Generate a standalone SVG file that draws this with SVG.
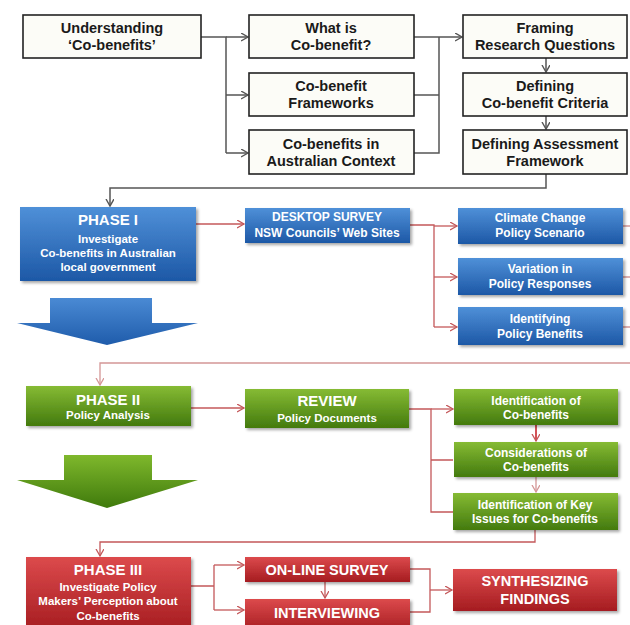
<svg xmlns="http://www.w3.org/2000/svg" width="630" height="625" viewBox="0 0 630 625">
<style>
.wb{fill:#fcfcf7;stroke:#222;stroke-width:1.6}
.tw{font-family:"Liberation Sans",Arial,sans-serif;font-weight:bold;font-size:14.5px;fill:#1a1a1a;text-anchor:middle}
.tc{font-family:"Liberation Sans",Arial,sans-serif;font-weight:bold;font-size:11.5px;fill:#fff;text-anchor:middle}
.tb{font-family:"Liberation Sans",Arial,sans-serif;font-weight:bold;font-size:12px;fill:#fff;text-anchor:middle}
.th{font-family:"Liberation Sans",Arial,sans-serif;font-weight:bold;font-size:15px;fill:#fff;text-anchor:middle}
.tr{font-family:"Liberation Sans",Arial,sans-serif;font-weight:bold;font-size:14.5px;fill:#fff;text-anchor:middle}
.g{fill:none;stroke:#555;stroke-width:1.5}
.r{fill:none;stroke:#c4585a;stroke-width:1.3}
.rl{fill:none;stroke:#d49696;stroke-width:1.3}
.blue{fill:url(#gb);filter:url(#sh)}
.green{fill:url(#gg);filter:url(#sh)}
.red{fill:url(#gr);filter:url(#sh)}
</style>
<defs>
<linearGradient id="gb" x1="0" y1="0" x2="0" y2="1"><stop offset="0" stop-color="#4f90d8"/><stop offset="1" stop-color="#1d58a6"/></linearGradient>
<linearGradient id="gg" x1="0" y1="0" x2="0" y2="1"><stop offset="0" stop-color="#86bb34"/><stop offset="1" stop-color="#437a0e"/></linearGradient>
<linearGradient id="gr" x1="0" y1="0" x2="0" y2="1"><stop offset="0" stop-color="#dc4a4c"/><stop offset="1" stop-color="#a51c20"/></linearGradient>
<linearGradient id="gba" x1="0" y1="0" x2="0" y2="1"><stop offset="0" stop-color="#4a8ad4"/><stop offset="1" stop-color="#1f5cab"/></linearGradient>
<linearGradient id="gga" x1="0" y1="0" x2="0" y2="1"><stop offset="0" stop-color="#7fb82c"/><stop offset="1" stop-color="#3f7a0c"/></linearGradient>
<filter id="sh" x="-10%" y="-20%" width="125%" height="150%"><feDropShadow dx="2" dy="2" stdDeviation="1.5" flood-color="#000" flood-opacity="0.35"/></filter>
<marker id="ag" markerUnits="userSpaceOnUse" markerWidth="10" markerHeight="10" refX="7" refY="4" orient="auto"><path d="M0,0 L7,4 L0,8" fill="none" stroke="#555" stroke-width="1.4"/></marker>
<marker id="ar" markerUnits="userSpaceOnUse" markerWidth="10" markerHeight="10" refX="7" refY="4" orient="auto"><path d="M0,0 L7,4 L0,8" fill="none" stroke="#c4585a" stroke-width="1.3"/></marker>
<marker id="arl" markerUnits="userSpaceOnUse" markerWidth="10" markerHeight="10" refX="7" refY="4" orient="auto"><path d="M0,0 L7,4 L0,8" fill="none" stroke="#d49696" stroke-width="1.3"/></marker>
</defs>
<rect width="630" height="625" fill="#fff"/>

<g id="connectors">
<path class="g" d="M201,37 H226 V153"/>
<path class="g" d="M226,37 H248" marker-end="url(#ag)"/>
<path class="g" d="M226,95 H248" marker-end="url(#ag)"/>
<path class="g" d="M226,153 H248" marker-end="url(#ag)"/>
<path class="g" d="M414,37 H439 M414,95 H439 M414,153 H439 V37"/>
<path class="g" d="M439,37 H462" marker-end="url(#ag)"/>
<path class="g" d="M546,58 V72" marker-end="url(#ag)"/>
<path class="g" d="M546,116 V129" marker-end="url(#ag)"/>
<path class="g" d="M546,174 V188 H110 V206" marker-end="url(#ag)"/>

<path class="r" d="M196,224 H244" marker-end="url(#ar)"/>
<path class="r" d="M410,225 H434 V327"/>
<path class="r" d="M434,226 H457" marker-end="url(#ar)"/>
<path class="r" d="M434,277 H457" marker-end="url(#ar)"/>
<path class="r" d="M434,327 H457" marker-end="url(#ar)"/>
<path class="rl" d="M623,226 H630 M623,277 H630 M623,327 H630"/>
<path class="rl" d="M630,363 H100 V385" marker-end="url(#arl)"/>

<path class="r" d="M191,408 H244" marker-end="url(#ar)"/>
<path class="r" d="M409,409 H431 V512 H453 M431,460 H453"/>
<path class="r" d="M431,409 H453" marker-end="url(#ar)"/>
<path fill="none" stroke="#c8262c" stroke-width="1.6" d="M536,425 V441" marker-end="url(#ar)"/>
<path class="rl" d="M536,477 V492" marker-end="url(#arl)"/>
<path class="r" d="M535,530 V542 H100 V556" marker-end="url(#ar)"/>

<path class="r" d="M191,586 H214 M214,565 V610"/>
<path class="r" d="M214,565 H244" marker-end="url(#ar)"/>
<path class="r" d="M214,610 H244" marker-end="url(#ar)"/>
<path class="r" d="M325,582 V598" marker-end="url(#ar)"/>
<path class="r" d="M410,569 H430 V612 H410"/>
<path class="r" d="M430,590 H452" marker-end="url(#ar)"/>
</g>

<g id="understanding"><rect class="wb" x="23" y="15" width="178" height="43"/><text class="tw" x="112" y="33">Understanding</text><text class="tw" x="112" y="50">‘Co-benefits’</text></g>
<g id="what-is"><rect class="wb" x="249" y="15" width="165" height="43"/><text class="tw" x="331" y="33">What is</text><text class="tw" x="331" y="50">Co-benefit?</text></g>
<g id="frameworks"><rect class="wb" x="249" y="73" width="165" height="43"/><text class="tw" x="331" y="91">Co-benefit</text><text class="tw" x="331" y="108">Frameworks</text></g>
<g id="australian-context"><rect class="wb" x="249" y="130" width="165" height="44"/><text class="tw" x="331" y="149">Co-benefits in</text><text class="tw" x="331" y="166">Australian Context</text></g>
<g id="framing"><rect class="wb" x="463" y="15" width="164" height="43"/><text class="tw" x="545" y="33">Framing</text><text class="tw" x="545" y="50">Research Questions</text></g>
<g id="criteria"><rect class="wb" x="463" y="73" width="164" height="43"/><text class="tw" x="545" y="91">Defining</text><text class="tw" x="545" y="108">Co-benefit Criteria</text></g>
<g id="assessment"><rect class="wb" x="463" y="130" width="164" height="44"/><text class="tw" x="545" y="149">Defining Assessment</text><text class="tw" x="545" y="166">Framework</text></g>

<g id="phase1"><rect class="blue" x="20" y="207" width="176" height="74"/><text class="th" x="108" y="225">PHASE I</text><text class="tc" x="108" y="243">Investigate</text><text class="tc" x="108" y="257">Co-benefits in Australian</text><text class="tc" x="108" y="271">local government</text></g>
<g id="phase1-arrow"><polygon points="50,298 152,298 152,323 198,323 107,345 17,323 50,323" fill="url(#gba)"/></g>
<g id="desktop-survey"><rect class="blue" x="245" y="208" width="165" height="35"/><text class="tb" x="327" y="221">DESKTOP SURVEY</text><text class="tb" x="327" y="237">NSW Councils’ Web Sites</text></g>
<g id="climate-change"><rect class="blue" x="458" y="208" width="165" height="36"/><text class="tb" x="540" y="222">Climate Change</text><text class="tb" x="540" y="237">Policy Scenario</text></g>
<g id="variation"><rect class="blue" x="458" y="258" width="165" height="37"/><text class="tb" x="540" y="273">Variation in</text><text class="tb" x="540" y="288">Policy Responses</text></g>
<g id="identifying-benefits"><rect class="blue" x="458" y="307" width="165" height="38"/><text class="tb" x="540" y="323">Identifying</text><text class="tb" x="540" y="338">Policy Benefits</text></g>

<g id="phase2"><rect class="green" x="26" y="386" width="165" height="40"/><text class="th" x="108" y="405">PHASE II</text><text class="tc" x="108" y="419">Policy Analysis</text></g>
<g id="phase2-arrow"><polygon points="64,455 152,455 152,480 198,480 107,508 17,480 64,480" fill="url(#gga)"/></g>
<g id="review"><rect class="green" x="245" y="389" width="164" height="39"/><text class="th" x="327" y="406">REVIEW</text><text class="tc" x="327" y="422">Policy Documents</text></g>
<g id="identification"><rect class="green" x="454" y="389" width="164" height="36"/><text class="tb" x="536" y="405">Identification of</text><text class="tb" x="536" y="419">Co-benefits</text></g>
<g id="considerations"><rect class="green" x="454" y="442" width="164" height="35"/><text class="tb" x="536" y="457">Considerations of</text><text class="tb" x="536" y="471">Co-benefits</text></g>
<g id="key-issues"><rect class="green" x="453" y="493" width="165" height="37"/><text class="tb" x="535" y="509">Identification of Key</text><text class="tb" x="535" y="523">Issues for Co-benefits</text></g>

<g id="phase3"><rect class="red" x="26" y="557" width="165" height="75"/><text class="th" x="108" y="575">PHASE III</text><text class="tc" x="108" y="591">Investigate Policy</text><text class="tc" x="108" y="605">Makers’ Perception about</text><text class="tc" x="108" y="620">Co-benefits</text></g>
<g id="online-survey"><rect class="red" x="245" y="557" width="165" height="25"/><text class="tr" x="327" y="575">ON-LINE SURVEY</text></g>
<g id="interviewing"><rect class="red" x="245" y="599" width="165" height="33"/><text class="tr" x="327" y="618">INTERVIEWING</text></g>
<g id="synthesizing"><rect class="red" x="453" y="569" width="164" height="42"/><text class="tr" x="535" y="586">SYNTHESIZING</text><text class="tr" x="535" y="604">FINDINGS</text></g>
</svg>
